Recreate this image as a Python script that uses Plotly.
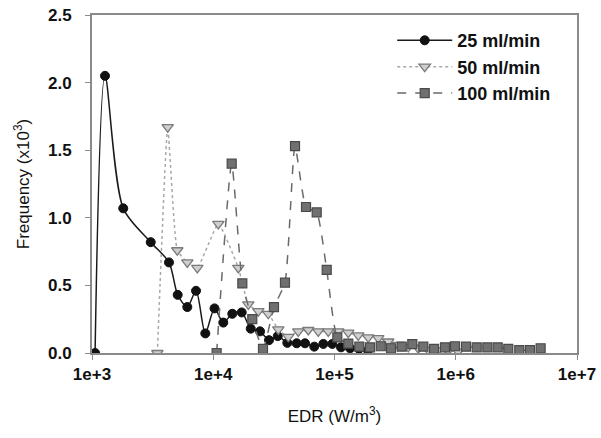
import plotly.graph_objects as go

# 25 ml/min
edr_25 = [1060, 1280, 1810, 3050, 4315, 5090, 6110, 7210, 8600, 10240, 12100, 14360,
          17170, 20380, 24320, 28840, 34040, 40840, 48780, 57130, 68100, 80900, 95970,
          113200, 134400, 159200, 188800]
freq_25 = [0.0, 2.05, 1.07, 0.82, 0.67, 0.43, 0.34, 0.46, 0.145, 0.33, 0.225, 0.29,
           0.30, 0.18, 0.16, 0.095, 0.125, 0.075, 0.072, 0.072, 0.047, 0.067, 0.067,
           0.042, 0.035, 0.03, 0.02]

# 50 ml/min
edr_50 = [3460, 4210, 5050, 6110, 7390, 11020, 16100, 19460, 23530, 28440, 34400, 41580,
          50260, 60770, 73460, 88810, 107400, 129900, 157000, 189800, 229500, 277600,
          335700, 406000, 491000, 590000, 714000, 863000, 1044000]
freq_50 = [0.0, 1.67, 0.76, 0.67, 0.63, 0.955, 0.63, 0.36, 0.31, 0.29, 0.175, 0.12,
           0.16, 0.17, 0.16, 0.16, 0.16, 0.15, 0.13, 0.115, 0.11, 0.085,
           0.06, 0.045, 0.035, 0.025, 0.02, 0.015, 0.01]

# 100 ml/min
edr_100 = [10660, 14190, 17370, 20990, 25720, 31690, 39050, 47240, 58210, 71310, 86250,
           105500, 130000, 160200, 196400, 240500, 292400, 358200, 438200, 540000, 662000,
           815000, 986000, 1215000, 1489000, 1822000, 2218000, 2712000, 3342000, 4093000,
           5012000]
freq_100 = [0.0, 1.40, 0.515, 0.25, 0.03, 0.34, 0.52, 1.53, 1.08, 1.04, 0.615,
            0.115, 0.07, 0.047, 0.042, 0.05, 0.035, 0.047, 0.065, 0.047, 0.03,
            0.042, 0.05, 0.047, 0.042, 0.042, 0.042, 0.03, 0.022, 0.022, 0.035]

x_tickvals = [1e3, 1e4, 1e5, 1e6, 1e7]
x_ticktext = ["1e+3", "1e+4", "1e+5", "1e+6", "1e+7"]
y_tickvals = [0.0, 0.5, 1.0, 1.5, 2.0, 2.5]
y_ticktext = ["0.0", "0.5", "1.0", "1.5", "2.0", "2.5"]

FONT = "Liberation Sans, Arial, sans-serif"

fig = go.Figure()
fig.add_trace(go.Scatter(
    x=edr_25, y=freq_25, name="25 ml/min", mode="lines+markers",
    line=dict(color="#1a1a1a", width=1.5, shape="spline", smoothing=0.8),
    marker=dict(symbol="circle", size=9, color="#111111", line=dict(color="#111111", width=1)),
))
fig.add_trace(go.Scatter(
    x=edr_50, y=freq_50, name="50 ml/min", mode="lines+markers",
    line=dict(color="#a8a8a8", width=1.5, dash="dot", shape="spline", smoothing=0.4),
    marker=dict(symbol="triangle-down", size=10, color="#cfcfcf", line=dict(color="#7a7a7a", width=1.3)),
))
fig.add_trace(go.Scatter(
    x=edr_100, y=freq_100, name="100 ml/min", mode="lines+markers",
    line=dict(color="#6a6a6a", width=1.5, dash="dash", shape="spline", smoothing=0.5),
    marker=dict(symbol="square", size=9, color="#707070", line=dict(color="#4a4a4a", width=1.2)),
))

axis_common = dict(
    showline=True, linecolor="#8a8a8a", linewidth=2, mirror=True,
    showgrid=False, zeroline=False, ticks="outside", ticklen=5, tickwidth=1.2,
    tickcolor="#8a8a8a", automargin=False, ticklabeloverflow="allow",
    tickfont=dict(family=FONT, size=17, color="#111111", weight="bold"),
)

fig.update_xaxes(
    type="log", range=[3, 7], tickvals=x_tickvals, ticktext=x_ticktext,
    ticklabelstandoff=0,
    title=dict(text="EDR (W/m<sup>3</sup>)", font=dict(family=FONT, size=17, color="#111111"), standoff=27),
    **axis_common,
)
fig.update_yaxes(
    range=[0, 2.5], tickvals=y_tickvals, ticktext=y_ticktext,
    ticklabelstandoff=10,
    title=dict(text="Frequency (x10<sup>3</sup>)", font=dict(family=FONT, size=17, color="#111111"), standoff=14),
    **axis_common,
)

fig.update_layout(
    width=601, height=438,
    margin=dict(l=92, r=24, t=15, b=85),
    paper_bgcolor="white", plot_bgcolor="white",
    showlegend=True,
    legend=dict(
        x=0.619, y=0.979, xanchor="left", yanchor="top",
        bgcolor="rgba(0,0,0,0)", borderwidth=0,
        font=dict(family=FONT, size=18, color="#111111", weight="bold"),
        itemwidth=55, tracegroupgap=0,
    ),
)

fig.write_html("out.html", config={"displayModeBar": False},
               post_script="document.body.style.margin='0';")
